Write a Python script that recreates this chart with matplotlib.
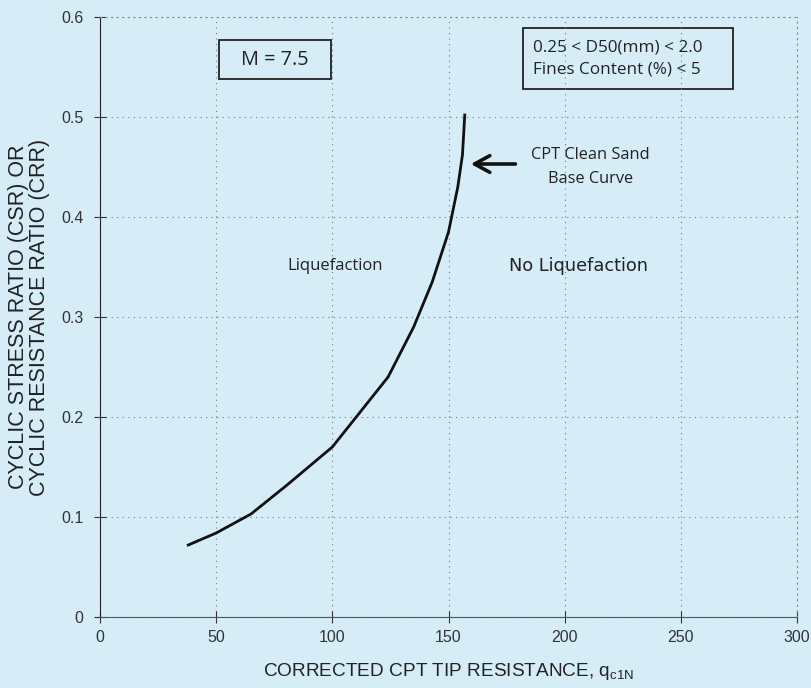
import matplotlib.pyplot as plt
from matplotlib.patches import Rectangle

# CPT clean sand base curve
qc1n = [38, 50, 65, 80, 100, 112, 124, 135, 143, 150, 154, 156, 157]
crr = [0.072, 0.084, 0.103, 0.131, 0.170, 0.205, 0.240, 0.290, 0.335, 0.385, 0.430, 0.462, 0.502]

xticks = [0, 50, 100, 150, 200, 250, 300]
yticks = [0, 0.1, 0.2, 0.3, 0.4, 0.5, 0.6]

bg = '#d6edf8'
fig = plt.figure(figsize=(8.12, 6.88), dpi=100, facecolor=bg)
ax = fig.add_axes([100 / 812, 71 / 688, 697 / 812, 600 / 688])
ax.set_facecolor(bg)

ax.plot(qc1n, crr, color='#111111', lw=2.0)

ax.set_xlim(0, 300)
ax.set_ylim(0, 0.6)
tickfont = dict(family='Liberation Sans', fontsize=11.5, color='#333333')
ax.set_xticks(xticks)
ax.set_yticks(yticks)
ax.set_xticklabels([str(t) for t in xticks], **tickfont)
ax.set_yticklabels(['0' if t == 0 else f'{t:.1f}' for t in yticks], **tickfont)
ax.grid(True, ls=(0, (1, 4)), color='#777777', lw=0.8)
ax.tick_params(direction='inout', length=8, color='#333333')
ax.tick_params(axis='x', pad=5)
ax.tick_params(axis='y', pad=8)
for s in ['top', 'right']:
    ax.spines[s].set_linestyle((0, (1, 4)))
    ax.spines[s].set_color('#888888')
ax.spines['left'].set_color('#222222')
ax.spines['bottom'].set_color('#555555')

lab = dict(family='Liberation Sans', color='#222222')
ax.set_xlabel('CORRECTED CPT TIP RESISTANCE, $\\mathregular{q_{c1N}}$', fontsize=13.7,
              labelpad=12, **lab)
ax.set_ylabel('CYCLIC STRESS RATIO (CSR) OR\nCYCLIC RESISTANCE RATIO (CRR)',
              fontsize=15.5, linespacing=1.02, labelpad=8, **lab)

note = dict(family='Open Sans', color='#222222')
ax.text(101.2, 0.351, 'Liquefaction', ha='center', va='center', fontsize=12, **note)
ax.text(205.8, 0.351, 'No Liquefaction', ha='center', va='center', fontsize=12.8,
        family='DejaVu Sans', color='#222222')
ax.text(211, 0.462, 'CPT Clean Sand', ha='center', va='center', fontsize=11.8, **note)
ax.text(211, 0.438, 'Base Curve', ha='center', va='center', fontsize=11.8, **note)
ax.annotate('', xy=(158.4, 0.453), xytext=(180, 0.453),
            arrowprops=dict(arrowstyle='->,head_length=0.55,head_width=0.3',
                            color='#111111', lw=2.6, mutation_scale=20))

ax.add_patch(Rectangle((51.2, 0.538), 48.2, 0.039, fill=False, ec='#222222', lw=1.3))
ax.text(75.3, 0.557, 'M = 7.5', ha='center', va='center', fontsize=14.3, **note)

ax.add_patch(Rectangle((182.1, 0.528), 90.4, 0.061, fill=False, ec='#222222', lw=1.3))
ax.text(186.4, 0.570, '0.25 < D50(mm) < 2.0', ha='left', va='center', fontsize=12.3, **note)
ax.text(186.4, 0.547, 'Fines Content (%) < 5', ha='left', va='center', fontsize=12.3, **note)

fig.savefig('out.png', dpi=100, facecolor=bg)
